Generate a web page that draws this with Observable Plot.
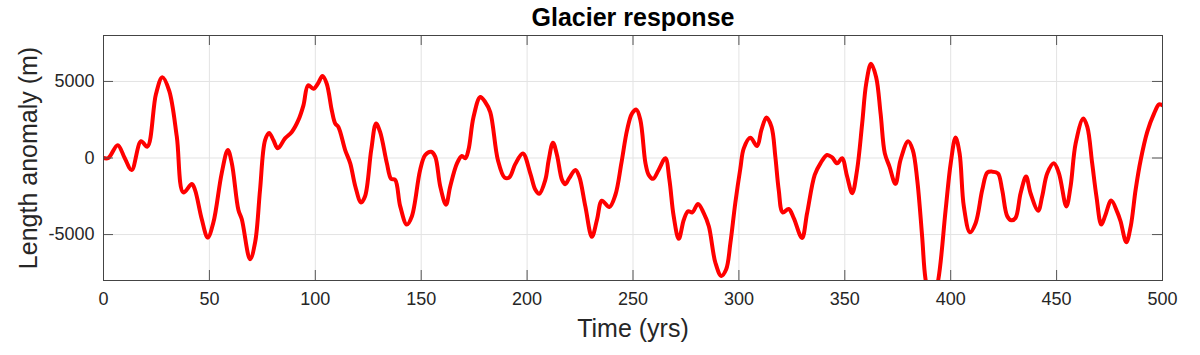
<!DOCTYPE html>
<html>
<head>
<meta charset="utf-8">
<script src="https://cdn.jsdelivr.net/npm/d3@7"></script>
<script src="https://cdn.jsdelivr.net/npm/@observablehq/plot@0.6"></script>
<style>
  html, body { margin: 0; padding: 0; background: #fff; }
</style>
</head>
<body>
<div id="chart"></div>
<script>
const title = "Glacier response";
const xLabel = "Time (yrs)";
const yLabel = "Length anomaly (m)";
const xTicks = [0, 50, 100, 150, 200, 250, 300, 350, 400, 450, 500];
const yTicks = [-5000, 0, 5000];

const years = [0,2.3,6.7,10,13.3,17.7,20.7,24.8,27.8,31,34.6,37.7,41.7,43.2,46.4,49.2,51.9,55.8,58.7,60.6,63.7,65.3,69.2,71.6,73.9,76.3,78.2,80.2,82.3,85.7,88.9,92,94.4,96.6,99.1,101.2,103.4,105.4,107.8,109.4,110.9,114.1,116.5,118.9,121.6,123.5,126.4,128.7,130.6,133.8,135.8,137.7,140.1,143.2,145.6,149.5,151.9,154.7,156.6,159,161.7,163.7,166.9,169.2,170.8,172.3,174.7,177.9,180.2,182.6,186.2,189.4,191.6,194.4,198,201.5,203.9,205.7,208.6,210.2,212.2,214.1,216.5,218,219.9,222.8,224.6,227.5,230.6,233,235.3,238.8,241.7,244.5,247.2,249.5,251.6,253.5,255.9,257.4,259.5,262.1,265.3,267.2,269.2,271.6,274,276,278,280.7,283.4,285.8,288.9,291.7,294,296,298.3,300.7,302.3,305.4,308.6,310.6,313,315.4,317.2,318.8,320.7,323.5,325.9,329.8,332.2,335.8,338.5,341.6,344,346.4,348.7,351.1,353.5,355.8,358.2,360.1,362.4,364.8,366.9,368.9,371.1,373.9,376.3,379.9,382.1,384.2,386.5,388.1,391,394.2,397.6,400,402.3,404.2,406.2,409.1,411.8,414.9,417.3,419.6,422.3,424.3,426.7,428.7,430.6,433,435.6,437.7,441.3,443.2,445.6,448.7,451.1,454.6,456.6,459,462.6,464.5,466.8,468.8,471.1,473.1,475.8,478.7,480.2,482.9,485,487.3,489.7,492.8,496,498.4,500];
const lengths = [0,0,840,0,-780,1100,740,4200,5280,4400,1400,-2250,-1700,-2080,-4000,-5200,-4200,-1000,520,-350,-3400,-4000,-6620,-5500,-2100,1170,1640,1170,630,1280,1700,2470,3440,4750,4520,4850,5350,4850,3100,2250,2030,520,-350,-1860,-2900,-2500,520,2250,1700,-350,-1360,-1430,-3160,-4350,-3800,-780,200,410,90,-1860,-3050,-1860,-350,130,-20,520,2680,3980,3660,3000,-130,-1280,-1260,-400,300,-1000,-2080,-2340,-1430,-130,1000,200,-1430,-1710,-1320,-780,-1210,-3160,-5150,-4030,-2790,-3200,-2400,-350,1820,2900,3160,2470,-350,-1100,-1360,-780,-20,-1430,-3800,-5280,-4030,-3480,-3550,-3000,-3600,-4460,-6840,-7700,-7270,-5540,-2940,-670,630,1320,780,1820,2640,2030,90,-2080,-3550,-3330,-3920,-5220,-3600,-1100,-350,200,40,-350,-20,-1210,-2300,-780,2250,4850,6150,5280,2900,300,-560,-1690,-130,1100,520,-1430,-5100,-7900,-9800,-7900,-3400,-350,1340,300,-3160,-4850,-4240,-2080,-950,-890,-1000,-2080,-3800,-4070,-3920,-2300,-1210,-2300,-3440,-2500,-1000,-350,-1000,-3160,-1860,950,2580,2030,-350,-2500,-4350,-3700,-2770,-3550,-4130,-5500,-4460,-2080,-130,1710,2900,3500,3440];

const data = years.map((t, i) => ({t, v: lengths[i]}));

const W = 1200, H = 355;
const mL = 103, mR = 38, mT = 35, mB = 75;
const fw = W - mL - mR, fh = H - mT - mB;
const textColor = "#262626";

const chart = Plot.plot({
  width: W,
  height: H,
  marginLeft: mL,
  marginRight: mR,
  marginTop: mT,
  marginBottom: mB,
  style: {fontFamily: "'Liberation Sans', Arial, Helvetica, sans-serif", fontSize: "18px", color: textColor, background: "#fff"},
  x: {domain: [0, 500], label: null},
  y: {domain: [-8000, 8000], label: null},
  marks: [
    Plot.ruleX(xTicks, {stroke: "#e3e3e3", strokeWidth: 1}),
    Plot.ruleY(yTicks, {stroke: "#e3e3e3", strokeWidth: 1}),
    Plot.line(data, {x: "t", y: "v", stroke: "#ff0000", strokeWidth: 4, curve: "catmull-rom", clip: "frame", strokeLinejoin: "round", strokeLinecap: "round"}),
    Plot.ruleX(xTicks, {stroke: "#555", strokeWidth: 1, insetTop: fh - 10}),
    Plot.ruleX(xTicks, {stroke: "#555", strokeWidth: 1, insetBottom: fh - 10}),
    Plot.ruleY(yTicks, {stroke: "#555", strokeWidth: 1, insetRight: fw - 10}),
    Plot.ruleY(yTicks, {stroke: "#555", strokeWidth: 1, insetLeft: fw - 10}),
    Plot.frame({stroke: "#444", strokeWidth: 1}),
    Plot.axisX({ticks: xTicks, tickSize: 0, tickPadding: 12, tickFormat: d => String(d), label: null, fill: textColor}),
    Plot.axisY({ticks: yTicks, tickSize: 0, tickPadding: 9, tickFormat: d => String(d), label: null, fill: textColor}),
    Plot.text([title], {frameAnchor: "top", textAnchor: "middle", lineAnchor: "middle", dy: -18, fontSize: 25, fontWeight: "bold", fill: "#000"}),
    Plot.text([xLabel], {frameAnchor: "bottom", textAnchor: "middle", lineAnchor: "middle", dy: 48, fontSize: 25, fill: textColor}),
    Plot.text([yLabel], {frameAnchor: "left", textAnchor: "middle", lineAnchor: "middle", dx: -75, rotate: -90, fontSize: 25, fill: textColor})
  ]
});
document.getElementById("chart").appendChild(chart);
</script>
</body>
</html>
